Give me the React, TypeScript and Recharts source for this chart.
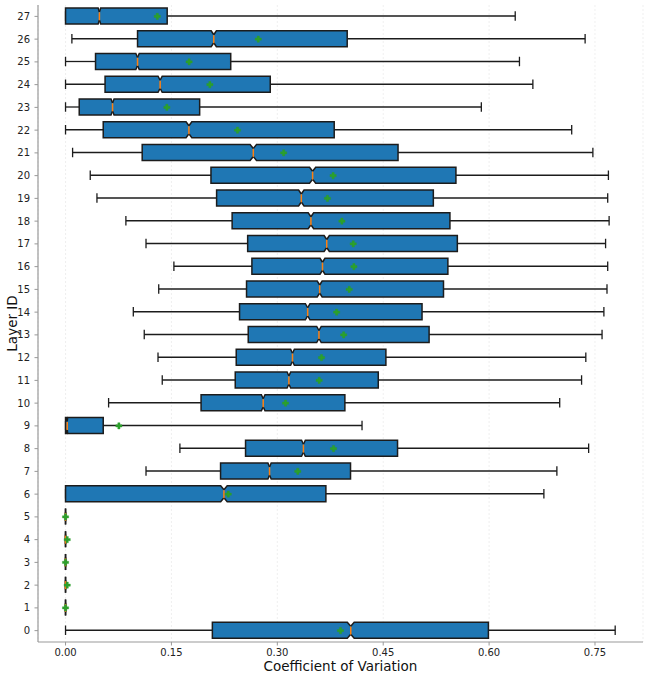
import React from 'react';
import { ComposedChart, Bar, Line, XAxis, YAxis, CartesianGrid } from 'recharts';

const layers = [0, 1, 2, 3, 4, 5, 6, 7, 8, 9, 10, 11, 12, 13, 14, 15, 16, 17, 18, 19, 20, 21, 22, 23, 24, 25, 26, 27];
const whiskerLow = [0, 0, 0, 0, 0, 0, 0, 0.114, 0.162, 0, 0.061, 0.137, 0.131, 0.1115, 0.096, 0.132, 0.1535, 0.114, 0.0855, 0.0445, 0.035, 0.01, 0, 0, 0, 0, 0.009, 0];
const q1 = [0.208, 0, 0, 0, 0, 0, 0, 0.2196, 0.255, 0, 0.192, 0.2404, 0.2418, 0.2588, 0.2465, 0.2564, 0.264, 0.258, 0.236, 0.214, 0.206, 0.1086, 0.0534, 0.0194, 0.056, 0.0425, 0.102, 0];
const median = [0.404, 0, 0, 0, 0, 0, 0.2244, 0.289, 0.337, 0.0024, 0.28, 0.3164, 0.3215, 0.359, 0.343, 0.36, 0.364, 0.37, 0.3476, 0.334, 0.35, 0.266, 0.1748, 0.0666, 0.134, 0.102, 0.21, 0.048];
const q3 = [0.599, 0, 0, 0, 0, 0, 0.3688, 0.4037, 0.4703, 0.0534, 0.3957, 0.443, 0.4538, 0.515, 0.505, 0.5354, 0.5416, 0.555, 0.5445, 0.521, 0.553, 0.471, 0.3806, 0.19, 0.29, 0.234, 0.399, 0.144];
const whiskerHigh = [0.7786, 0, 0, 0, 0, 0, 0.6776, 0.696, 0.741, 0.42, 0.7, 0.731, 0.737, 0.76, 0.7626, 0.767, 0.768, 0.765, 0.77, 0.768, 0.769, 0.747, 0.717, 0.589, 0.662, 0.643, 0.736, 0.637];
const mean = [0.3895, 0, 0.0024, 0, 0.0024, 0, 0.2305, 0.329, 0.3796, 0.0756, 0.3116, 0.3593, 0.3626, 0.394, 0.384, 0.4018, 0.4085, 0.4075, 0.3915, 0.371, 0.379, 0.309, 0.2436, 0.1436, 0.2045, 0.175, 0.273, 0.13];
const xTicks = [0, 0.15, 0.3, 0.45, 0.6, 0.75];

const rows = layers
  .map((id, i) => ({
    layer: String(id),
    base: whiskerLow[i],
    lw: q1[i] - whiskerLow[i],
    b1: median[i] - q1[i],
    b2: q3[i] - median[i],
    hw: whiskerHigh[i] - q3[i],
    median: median[i],
    mean: mean[i],
    iqr: q3[i] - q1[i],
  }))
  .reverse();

const FONT = 'DejaVu Sans, sans-serif';
const EDGE = '#1c1c1c';
const BOX_FILL = '#1f77b4';
const BAR_SIZE = 16;
const CAP = 9.5;
const NOTCH_K = 0.0125;

const pxPerUnit = (w: number, v: number) => (v > 0.005 ? w / v : 706);

const Empty = () => <g />;

const WhiskerLow = (p: any) => {
  const { x, y, width, height } = p;
  const cy = y + height / 2;
  return (
    <g stroke={EDGE} strokeWidth={1.3} fill="none">
      <path d={`M${x},${cy}L${x + width},${cy}`} />
      <path d={`M${x},${cy - CAP / 2}L${x},${cy + CAP / 2}`} />
    </g>
  );
};

const WhiskerHigh = (p: any) => {
  const { x, y, width, height } = p;
  const cy = y + height / 2;
  const xe = x + width;
  return (
    <g stroke={EDGE} strokeWidth={1.3} fill="none">
      <path d={`M${x},${cy}L${xe},${cy}`} />
      <path d={`M${xe},${cy - CAP / 2}L${xe},${cy + CAP / 2}`} />
    </g>
  );
};

const BoxLeft = (p: any) => {
  const { x, y, width, height, payload } = p;
  const ppu = pxPerUnit(width, payload.b1);
  const n = NOTCH_K * payload.iqr * ppu;
  const xl = x;
  const xm = x + width;
  const xn = Math.max(xl, xm - n);
  const top = y;
  const bot = y + height;
  const ind = height / 4;
  const d = `M${xm},${top + ind}L${xn},${top}L${xl},${top}L${xl},${bot}L${xn},${bot}L${xm},${bot - ind}`;
  return (
    <g>
      <path d={d + 'Z'} fill={BOX_FILL} stroke="none" />
      <path d={d} fill="none" stroke={EDGE} strokeWidth={1.5} strokeLinejoin="miter" />
    </g>
  );
};

const BoxRight = (p: any) => {
  const { x, y, width, height, payload } = p;
  const ppu = pxPerUnit(width, payload.b2);
  const n = NOTCH_K * payload.iqr * ppu;
  const xm = x;
  const xr = x + width;
  const xn = Math.min(xr, xm + n);
  const top = y;
  const bot = y + height;
  const ind = height / 4;
  const d = `M${xm},${top + ind}L${xn},${top}L${xr},${top}L${xr},${bot}L${xn},${bot}L${xm},${bot - ind}`;
  return (
    <g>
      <path d={d + 'Z'} fill={BOX_FILL} stroke="none" />
      <path d={d} fill="none" stroke={EDGE} strokeWidth={1.5} strokeLinejoin="miter" />
    </g>
  );
};

const MedianDot = (p: any) => {
  const { cx, cy, index } = p;
  if (cx == null || cy == null) return <g key={`md-${index}`} />;
  const half = BAR_SIZE / 4;
  return (
    <path
      key={`md-${index}`}
      d={`M${cx},${cy - half}L${cx},${cy + half}`}
      stroke="#ff7f0e"
      strokeWidth={1.5}
      fill="none"
    />
  );
};

const MeanDot = (p: any) => {
  const { cx, cy, index } = p;
  if (cx == null || cy == null) return <g key={`mn-${index}`} />;
  const s = 3.1;
  const t = 1.1;
  const d = `M${cx - t},${cy - s}H${cx + t}V${cy - t}H${cx + s}V${cy + t}H${cx + t}V${cy + s}H${cx - t}V${cy + t}H${cx - s}V${cy - t}H${cx - t}Z`;
  return <path key={`mn-${index}`} d={d} fill="#2ca02c" stroke="#2ca02c" strokeWidth={0.4} />;
};

const YLabel = (p: any) => {
  const vb = p.viewBox || { x: 0, y: 5, width: 38, height: 637 };
  const cx = vb.x + 11.5;
  const cy = vb.y + vb.height / 2;
  return (
    <text
      x={cx}
      y={cy}
      transform={`rotate(-90 ${cx} ${cy})`}
      textAnchor="middle"
      dominantBaseline="central"
      fontSize={13.5}
      fill="#111"
      fontFamily={FONT}
    >
      Layer ID
    </text>
  );
};

export default function App() {
  return (
    <div style={{ position: 'absolute', left: 0, top: 0, background: '#fff' }}>
      <ComposedChart
        width={648}
        height={680}
        data={rows}
        layout="vertical"
        margin={{ top: 5, right: 5, left: 0, bottom: 0 }}
      >
        <CartesianGrid horizontal={false} vertical stroke="#e8e8e8" strokeDasharray="2 2" strokeWidth={0.7} />
        <XAxis
          type="number"
          domain={[-0.039, 0.818]}
          allowDataOverflow
          ticks={xTicks}
          tickFormatter={(v: number) => v.toFixed(2)}
          height={38}
          tickSize={3.5}
          tickMargin={3.5}
          axisLine={{ stroke: '#999', strokeWidth: 1.2 }}
          tickLine={{ stroke: '#999', strokeWidth: 1 }}
          tick={{ fontSize: 10, fill: '#222', fontFamily: FONT }}
          label={{
            value: 'Coefficient of Variation',
            position: 'insideBottom',
            offset: 9,
            fontSize: 13.5,
            fill: '#111',
            fontFamily: FONT,
          }}
        />
        <YAxis
          type="category"
          dataKey="layer"
          width={38}
          interval={0}
          tickSize={3.5}
          tickMargin={4.5}
          axisLine={{ stroke: '#999', strokeWidth: 1.2 }}
          tickLine={{ stroke: '#999', strokeWidth: 1 }}
          tick={{ fontSize: 10, fill: '#222', fontFamily: FONT }}
          label={(p: any) => <YLabel {...p} />}
        />
        <Bar dataKey="base" stackId="s" barSize={BAR_SIZE} shape={(p: any) => <Empty {...p} />} isAnimationActive={false} />
        <Bar dataKey="lw" stackId="s" barSize={BAR_SIZE} shape={(p: any) => <WhiskerLow {...p} />} isAnimationActive={false} />
        <Bar dataKey="b1" stackId="s" barSize={BAR_SIZE} shape={(p: any) => <BoxLeft {...p} />} isAnimationActive={false} />
        <Bar dataKey="b2" stackId="s" barSize={BAR_SIZE} shape={(p: any) => <BoxRight {...p} />} isAnimationActive={false} />
        <Bar dataKey="hw" stackId="s" barSize={BAR_SIZE} shape={(p: any) => <WhiskerHigh {...p} />} isAnimationActive={false} />
        <Line dataKey="median" stroke="none" dot={(p: any) => <MedianDot key={`md-${p.index}`} {...p} />} activeDot={false} isAnimationActive={false} legendType="none" />
        <Line dataKey="mean" stroke="none" dot={(p: any) => <MeanDot key={`mn-${p.index}`} {...p} />} activeDot={false} isAnimationActive={false} legendType="none" />
      </ComposedChart>
    </div>
  );
}
